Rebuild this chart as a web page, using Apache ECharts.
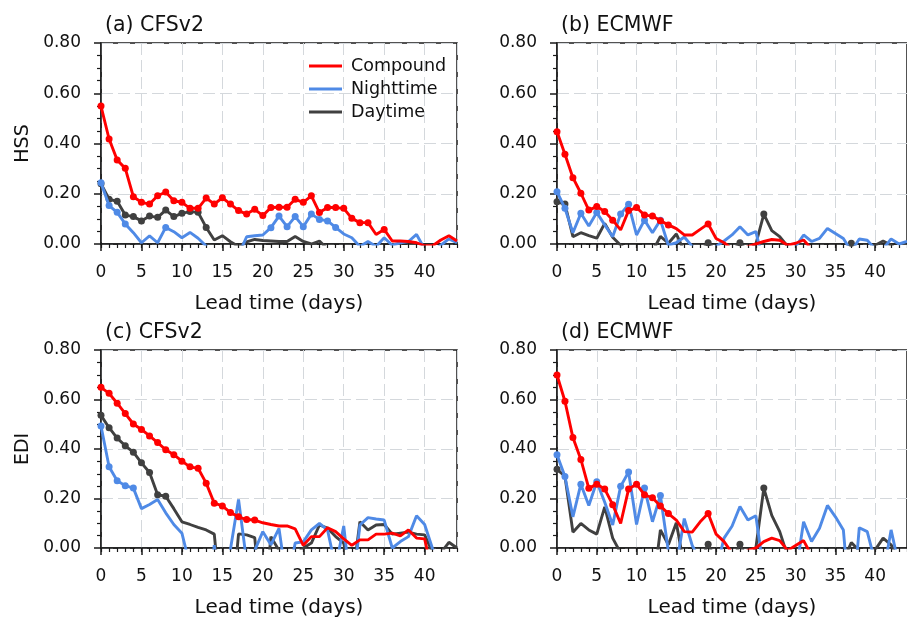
<!DOCTYPE html>
<html><head><meta charset="utf-8">
<script src="https://cdn.jsdelivr.net/npm/echarts@6/dist/echarts.min.js"></script>
<style>html,body{margin:0;padding:0;background:#fff}#c{width:907px;height:619px}</style>
</head><body><div id="c"></div>
<script>
// ---------------- DATA ----------------
const DAYS = [0,1,2,3,4,5,6,7,8,9,10,11,12,13,14,15,16,17,18,19,20,21,22,23,24,25,26,27,28,29,30,31,32,33,34,35,36,37,38,39,40,41,42,43,44];
const SERIES_NAMES = ['Compound','Nighttime','Daytime'];
const PANEL_TITLES = ['(a) CFSv2','(b) ECMWF','(c) CFSv2','(d) ECMWF'];
const Y_NAMES = ['HSS','','EDI',''];
const X_NAME = 'Lead time (days)';

// (a) CFSv2 HSS
const A_COMPOUND = [0.549,0.418,0.334,0.301,0.188,0.166,0.159,0.192,0.207,0.172,
 0.166,0.142,0.142,0.183,0.159,0.184,0.159,0.133,0.119,0.138,
 0.113,0.145,0.146,0.146,0.178,0.166,0.192,0.125,0.145,0.145,
 0.142,0.102,0.085,0.085,0.038,0.058,0.012,0.012,0.010,0.005,
 -0.007,-0.007,0.016,0.033,0.012];
const A_NIGHT = [0.244,0.153,0.126,0.080,0.045,0.005,0.032,0.005,0.066,0.049,
 0.025,0.046,0.023,-0.008,-0.05,-0.05,-0.05,-0.044,0.029,0.033,
 0.036,0.065,0.111,0.069,0.109,0.069,0.119,0.098,0.092,0.066,
 0.040,0.025,-0.010,0.010,-0.010,0.025,-0.005,0.005,0.010,0.038,
 -0.020,-0.030,-0.005,0.020,0.005];
const A_DAY = [0.240,0.178,0.170,0.115,0.109,0.092,0.111,0.106,0.135,0.109,
 0.122,0.129,0.126,0.066,0.016,0.033,0.009,-0.010,0.008,0.018,
 0.014,0.012,0.010,0.010,0.030,0.010,0.000,0.012,-0.020,-0.030,
 -0.03,-0.03,-0.03,-0.03,-0.03,-0.03,-0.03,-0.03,-0.03,-0.03,
 -0.03,-0.03,-0.03,-0.03,-0.03];
// (b) ECMWF HSS
const B_COMPOUND = [0.447,0.357,0.264,0.202,0.135,0.149,0.129,0.095,0.056,0.133,
 0.145,0.115,0.111,0.093,0.076,0.061,0.036,0.036,0.058,0.080,
 0.022,0.005,-0.020,-0.030,-0.010,0.000,0.010,0.018,0.015,-0.005,
 0.003,0.016,-0.020,-0.03,-0.03,-0.03,-0.03,-0.03,-0.03,-0.03,
 -0.03,-0.03,-0.03,-0.03,-0.03];
const B_NIGHT = [0.208,0.142,0.045,0.122,0.072,0.125,0.076,0.029,0.119,0.158,
 0.036,0.095,0.045,0.095,-0.005,0.005,0.028,-0.010,-0.030,-0.030,
 -0.010,0.012,0.036,0.069,0.036,0.049,-0.080,-0.080,-0.080,-0.050,
 -0.010,0.036,0.010,0.022,0.062,0.042,0.022,-0.029,0.020,0.015,
 -0.020,-0.020,0.020,0.000,0.010];
const B_DAY = [0.168,0.159,0.029,0.045,0.033,0.023,0.082,0.027,-0.005,-0.030,
 -0.030,-0.030,-0.030,0.030,0.003,0.040,-0.029,-0.030,-0.030,0.005,
 -0.030,-0.030,-0.030,0.005,-0.030,0.000,0.119,0.053,0.029,-0.010,
 -0.03,-0.03,-0.03,-0.03,-0.03,-0.03,-0.03,0.003,-0.03,-0.03,
 -0.005,0.012,-0.005,-0.03,-0.03];
// (c) CFSv2 EDI
const C_COMPOUND = [0.649,0.625,0.585,0.543,0.501,0.479,0.453,0.426,0.397,0.377,
 0.351,0.328,0.322,0.262,0.181,0.170,0.143,0.126,0.115,0.113,
 0.102,0.095,0.089,0.089,0.077,0.011,0.046,0.046,0.082,0.066,
 0.037,0.011,0.033,0.033,0.056,0.056,0.060,0.049,0.073,0.040,
 0.037,-0.110,-0.2,-0.2,-0.2];
const C_NIGHT = [0.493,0.328,0.272,0.252,0.242,0.159,0.176,0.196,0.142,0.095,
 0.060,-0.073,-0.3,-0.3,0.012,-0.3,-0.005,0.196,-0.055,-0.010,
 0.066,0.013,0.079,-0.150,0.020,0.025,0.073,0.099,0.073,-0.080,
 0.089,-0.200,0.093,0.123,0.117,0.113,0.000,0.026,0.046,0.130,
 0.095,-0.005,-0.1,-0.1,-0.1];
const C_DAY = [0.536,0.486,0.444,0.413,0.387,0.344,0.305,0.215,0.209,0.159,
 0.106,0.095,0.083,0.073,0.056,-0.280,-0.300,0.057,0.053,0.042,
 -0.300,0.046,-0.010,-0.050,-0.030,0.000,0.020,0.093,0.080,0.046,
 0.020,-0.150,0.106,0.073,0.093,0.095,0.056,0.060,0.064,0.056,
 0.053,-0.020,-0.020,0.023,0.000];
// (d) ECMWF EDI
const D_COMPOUND = [0.699,0.593,0.446,0.358,0.241,0.258,0.238,0.175,0.099,0.238,
 0.258,0.215,0.203,0.170,0.139,0.113,0.066,0.064,0.106,0.139,
 0.056,0.026,-0.020,-0.030,-0.010,0.000,0.026,0.040,0.030,-0.010,
 0.010,0.030,-0.030,-0.03,-0.03,-0.03,-0.03,-0.03,-0.03,-0.03,
 -0.03,-0.03,-0.03,-0.03,-0.03];
const D_NIGHT = [0.377,0.289,0.126,0.258,0.172,0.268,0.185,0.093,0.249,0.307,
 0.095,0.242,0.106,0.212,-0.013,-0.070,0.119,0.010,-0.050,-0.050,
 -0.090,0.040,0.088,0.168,0.113,0.130,-0.100,-0.100,-0.100,-0.100,
 -0.106,0.106,0.026,0.080,0.172,0.126,0.073,-0.300,0.082,0.066,
 -0.058,-0.110,0.073,-0.073,-0.050];
const D_DAY = [0.318,0.290,0.064,0.099,0.073,0.056,0.166,0.040,-0.020,-0.050,
 -0.050,-0.050,-0.180,0.073,0.013,0.102,-0.077,-0.050,-0.050,0.015,
 -0.050,-0.050,-0.050,0.015,-0.050,0.000,0.242,0.132,0.066,-0.033,
 -0.05,-0.05,-0.05,-0.05,-0.05,-0.05,-0.05,0.022,-0.011,-0.05,
 -0.007,0.040,0.013,-0.050,-0.050];

// days marked with a dot
const A_COMPOUND_DOTS = [0,1,2,3,4,5,6,7,8,9,10,11,12,13,14,15,16,17,18,19,20,21,22,23,24,25,26,27,28,29,30,31,32,33,35];
const A_NIGHT_DOTS = [0,1,2,3,8,21,22,23,24,25,26,27,28,29];
const A_DAY_DOTS = [0,1,2,3,4,5,6,7,8,9,10,11,12,13];
const B_COMPOUND_DOTS = [0,1,2,3,4,5,6,7,9,10,11,12,13,14,19];
const B_NIGHT_DOTS = [0,1,3,5,8,9,11,13];
const B_DAY_DOTS = [0,1,19,23,26,37];
const C_COMPOUND_DOTS = [0,1,2,3,4,5,6,7,8,9,10,11,12,13,14,15,16,17,18,19];
const C_NIGHT_DOTS = [0,1,2,3,4];
const C_DAY_DOTS = [0,1,2,3,4,5,6,7,8];
const D_COMPOUND_DOTS = [0,1,2,3,4,5,6,7,9,10,11,12,13,14,19];
const D_NIGHT_DOTS = [0,1,3,5,8,9,11,13];
const D_DAY_DOTS = [0,19,23,26];

// ---------------- CHART ----------------
const FONT = 'DejaVu Sans';
const COLORS = {Compound:'#ff0000', Nighttime:'#4f8ae6', Daytime:'#404040'};
const PANELS = [
  {grid:{left:101, top:43, width:356, height:201}, sets:[[A_DAY,A_DAY_DOTS],[A_NIGHT,A_NIGHT_DOTS],[A_COMPOUND,A_COMPOUND_DOTS]]},
  {grid:{left:557, top:43, width:358, height:201}, sets:[[B_DAY,B_DAY_DOTS],[B_NIGHT,B_NIGHT_DOTS],[B_COMPOUND,B_COMPOUND_DOTS]]},
  {grid:{left:101, top:350, width:356, height:202}, sets:[[C_DAY,C_DAY_DOTS],[C_NIGHT,C_NIGHT_DOTS],[C_COMPOUND,C_COMPOUND_DOTS]]},
  {grid:{left:557, top:350, width:358, height:202}, sets:[[D_DAY,D_DAY_DOTS],[D_NIGHT,D_NIGHT_DOTS],[D_COMPOUND,D_COMPOUND_DOTS]]}
];
const DRAW_ORDER = ['Daytime','Nighttime','Compound'];

const grids = [], xAxes = [], yAxes = [], series = [], titles = [];
PANELS.forEach((p, i) => {
  grids.push(Object.assign({show:true, borderColor:'#1a1a1a', borderWidth:1.5, backgroundColor:'transparent', containLabel:false}, p.grid));
  titles.push({text:PANEL_TITLES[i], left:p.grid.left - 1, top:p.grid.top - 33,
    textStyle:{fontFamily:FONT, fontSize:20.5, fontWeight:'normal', color:'#111'}});
  // major x axis
  xAxes.push({type:'value', gridIndex:i, min:0, max:44, interval:5,
    name:X_NAME, nameLocation:'middle', nameGap:50,
    nameTextStyle:{fontFamily:FONT, fontSize:20, color:'#111'},
    axisLine:{show:true, onZero:false, lineStyle:{color:'#1a1a1a', width:1.5}},
    axisTick:{show:true, inside:false, length:7, lineStyle:{color:'#1a1a1a', width:1.5}},
    axisLabel:{show:true, margin:20, showMaxLabel:false, fontFamily:FONT, fontSize:17, color:'#111'},
    splitLine:{show:true, lineStyle:{color:'#d4d8dc', width:1, type:[12,5]}}
  });
  // minor x ticks every day
  xAxes.push({type:'value', gridIndex:i, min:0, max:44, interval:1, position:'bottom',
    axisLine:{show:false}, axisLabel:{show:false}, splitLine:{show:false},
    axisTick:{show:true, inside:false, length:4, lineStyle:{color:'#1a1a1a', width:1.2}}
  });
  yAxes.push({type:'value', gridIndex:i, min:0, max:0.8, interval:0.2,
    name:Y_NAMES[i], nameLocation:'middle', nameGap:68, nameRotate:90,
    nameTextStyle:{fontFamily:FONT, fontSize:19, color:'#111'},
    axisLine:{show:true, onZero:false, lineStyle:{color:'#1a1a1a', width:1.5}},
    axisTick:{show:true, inside:false, length:7, lineStyle:{color:'#1a1a1a', width:1.5}},
    minorTick:{show:true, splitNumber:4, length:4, lineStyle:{color:'#1a1a1a', width:1.2}},
    axisLabel:{margin:20, fontFamily:FONT, fontSize:17, color:'#111', formatter:v => v.toFixed(2)},
    splitLine:{show:true, lineStyle:{color:'#d4d8dc', width:1, type:[12,5]}}
  });
  p.sets.forEach((s, k) => {
    const name = DRAW_ORDER[k];
    const vals = s[0], dots = s[1];
    series.push({
      type:'line', name:name, xAxisIndex:2*i, yAxisIndex:i,
      clip:true, showSymbol:true, showAllSymbol:true, symbolSize:7,
      z: 2 + k,
      itemStyle:{color:COLORS[name]},
      lineStyle:{color:COLORS[name], width:2.9},
      emphasis:{disabled:true},
      data: DAYS.map((d, j) => ({value:[d, vals[j]], symbol: dots.indexOf(d) >= 0 ? 'circle' : 'none'}))
    });
  });
});

const chart = echarts.init(document.getElementById('c'), null, {renderer:'canvas'});
chart.setOption({
  animation:false,
  backgroundColor:'#ffffff',
  title:titles,
  legend:{show:true, orient:'vertical', left:309, top:56, itemGap:3, padding:0,
    itemWidth:33, itemHeight:3, icon:'rect', selectedMode:false,
    data:SERIES_NAMES,
    textStyle:{fontFamily:FONT, fontSize:17.5, color:'#111', lineHeight:20, padding:[0,0,0,4]}},
  grid:grids, xAxis:xAxes, yAxis:yAxes, series:series
});
</script>
</body></html>
